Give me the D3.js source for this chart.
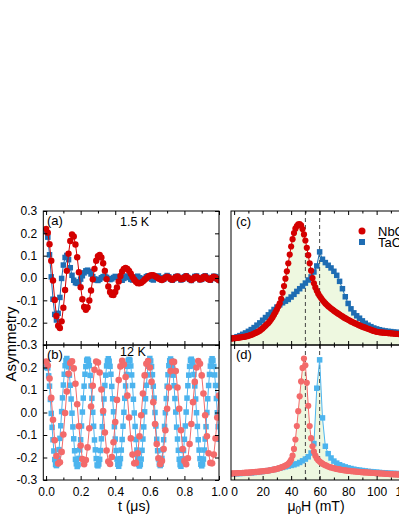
<!DOCTYPE html>
<html><head><meta charset="utf-8">
<script src="https://cdn.jsdelivr.net/npm/d3@7"></script>
<style>
body{margin:0;background:#fff;}
svg{display:block;font-family:"Liberation Sans",Arial,sans-serif;}
</style></head><body>
<svg id="chart" width="399" height="516"></svg>
<script>
// ---------- DATA ----------
// Panel (a) 1.5 K, t step 0.01 us
const aNbC = [
 0.220,0.203,0.151,0.077,-0.011,-0.098,-0.170,-0.214,-0.224,-0.194,
 -0.133,-0.054,0.032,0.109,0.166,0.195,0.186,0.150,0.093,0.026,
 -0.041,-0.095,-0.130,-0.142,-0.132,-0.101,-0.056,-0.006,0.041,0.077,
 0.098,0.103,0.092,0.066,0.032,-0.005,-0.038,-0.063,-0.075,-0.076,
 -0.063,-0.042,-0.016,0.009,0.029,0.041,0.045,0.041,0.032,0.019,
 0.005,-0.008,-0.017,-0.023,-0.024,-0.021,-0.015,-0.008,-0.001,0.006,
 0.010,0.013,0.013,0.008,0.004,-0.002,-0.006,-0.009,-0.004,0.002,
 0.006,0.003,-0.005,-0.008,-0.002,0.004,0.007,0.001,-0.006,-0.004,
 0.003,0.008,0.002,-0.005,-0.009,-0.003,0.004,0.006,0.000,-0.007,
 -0.004,0.005,0.007,-0.001,-0.006,-0.008,0.001,0.006,0.003,-0.004,
 -0.010];
const aTaC = [
 0.210,0.183,0.104,0.005,-0.095,-0.163,-0.188,-0.158,-0.087,-0.002,
 0.058,0.092,0.101,0.082,0.046,0.012,-0.010,-0.021,-0.024,-0.017,
 -0.005,0.010,0.023,0.032,0.035,0.029,0.018,0.006,-0.004,-0.009,
 -0.011,-0.006,0.001,0.006,0.008,0.003,-0.003,-0.007,-0.004,0.002,
 0.007,0.004,-0.003,-0.008,-0.010,-0.002,0.005,0.009,0.002,-0.006,
 -0.009,-0.003,0.004,0.008,0.001,-0.007,-0.011,-0.002,0.006,0.010,
 0.003,-0.005,-0.009,-0.001,0.007,0.009,0.001,-0.008,-0.006,0.004,
 0.011,0.005,-0.004,-0.010,-0.003,0.006,0.008,-0.001,-0.009,-0.005,
 0.005,0.010,0.002,-0.006,-0.011,-0.002,0.007,0.009,0.000,-0.008,
 -0.006,0.004,0.010,0.003,-0.005,-0.010,-0.001,0.008,0.006,-0.004,
 -0.009];
// Panel (b) 12 K
const bNbC = [ // t step 0.01 us
 0.226,0.209,0.151,0.065,-0.032,-0.123,-0.193,-0.227,-0.221,-0.175,
 -0.098,-0.002,0.093,0.172,0.220,0.228,0.196,0.128,0.037,-0.061,
 -0.147,-0.207,-0.230,-0.211,-0.155,-0.070,0.027,0.119,0.190,0.227,
 0.222,0.178,0.102,0.007,-0.089,-0.169,-0.218,-0.229,-0.198,-0.132,
 -0.042,0.056,0.144,0.205,0.230,0.213,0.158,0.075,-0.022,-0.115,
 -0.187,-0.226,-0.224,-0.181,-0.106,-0.012,0.084,0.165,0.217,0.229,
 0.200,0.136,0.046,-0.051,-0.140,-0.203,-0.230,-0.215,-0.162,-0.079,
 0.017,0.111,0.184,0.225,0.225,0.184,0.111,0.017,-0.079,-0.162,
 -0.215,-0.230,-0.203,-0.140,-0.051,0.046,0.136,0.200,0.229,0.217,
 0.165,0.084,-0.012,-0.106,-0.181,-0.224,-0.226,-0.187,-0.115,-0.022,
 0.075];
const bTaC = [ // t step 0.005 us
 0.200,0.214,0.198,0.163,0.117,0.058,-0.004,-0.066,-0.121,-0.171,-0.209,-0.231,-0.236,-0.228,-0.203,-0.165,-0.115,-0.059,0.004,0.065,0.122,0.170,0.208,0.231,
 0.240,0.229,0.203,0.166,0.121,0.060,-0.003,-0.064,-0.117,-0.170,-0.208,-0.228,-0.240,-0.232,-0.204,-0.166,-0.121,-0.060,0.002,0.064,0.117,0.170,0.204,0.232,
 0.237,0.231,0.208,0.165,0.118,0.063,0.001,-0.061,-0.122,-0.166,-0.205,-0.233,-0.237,-0.229,-0.208,-0.169,-0.117,-0.063,-0.002,0.060,0.120,0.166,0.207,0.229,
 0.239,0.228,0.205,0.170,0.116,0.061,0.003,-0.063,-0.118,-0.169,-0.207,-0.230,-0.239,-0.227,-0.205,-0.167,-0.120,-0.061,0.001,0.063,0.118,0.169,0.205,0.231,
 0.236,0.232,0.207,0.167,0.120,0.059,-0.002,-0.062,-0.120,-0.167,-0.204,-0.231,-0.238,-0.231,-0.207,-0.168,-0.118,-0.064,0.003,0.061,0.121,0.167,0.206,0.228,
 0.240,0.229,0.204,0.168,0.117,0.064,0.000,-0.060,-0.119,-0.170,-0.206,-0.229,-0.236,-0.230,-0.204,-0.166,-0.121,-0.062,-0.001,0.062,0.117,0.168,0.208,0.230,
 0.238,0.230,0.206,0.166,0.119,0.062,0.002,-0.065,-0.118,-0.168,-0.208,-0.232,-0.239,-0.228,-0.206,-0.169,-0.119,-0.060,0.002,0.064,0.119,0.166,0.205,0.232,
 0.237,0.228,0.207,0.169,0.118,0.060,-0.001,-0.062,-0.121,-0.167,-0.205,-0.230,-0.237,-0.229,-0.207,-0.167,-0.118,-0.063,0.000,0.061,0.120,0.169,0.206,0.229,
 0.239,0.231,0.205,0.167,0.120,0.062,-0.001,-0.063,-0.119];
// Panels (c),(d): field distributions, NbC from -2 mT step 1, TaC from -2 mT step 2
const cNbC = [
 .048,.050,.051,.052,.053,.055,.056,.058,.060,.061,
 .063,.066,.069,.072,.076,.080,.085,.090,.095,.100,
 .107,.115,.124,.134,.144,.154,.164,.177,.192,.208,
 .226,.245,.265,.288,.311,.345,.390,.440,.495,.550,
 .610,.675,.735,.790,.835,.868,.888,.900,.903,.892,
 .865,.825,.780,.725,.670,.610,.555,.500,.460,.430,
 .405,.383,.365,.350,.336,.322,.310,.300,.290,.281,
 .272,.264,.256,.248,.241,.234,.227,.220,.213,.206,
 .200,.194,.188,.182,.176,.171,.166,.161,.156,.151,
 .146,.141,.137,.133,.129,.125,.121,.117,.113,.109,
 .105,.102,.099,.097,.095,.094,.093,.092,.091,.090,
 .089,.088,.087,.086,.085,.084,.083,.082,.081,.080,
 .080,.079,.078];
const cTaC = [
 .050,.055,.062,.070,.080,.090,.102,.115,.130,.148,
 .165,.185,.205,.225,.245,.265,.283,.300,.315,.327,
 .340,.358,.378,.400,.420,.440,.462,.485,.508,.545,
 .590,.695,.640,.615,.595,.575,.550,.520,.475,.420,
 .360,.310,.270,.240,.218,.200,.180,.162,.148,.137,
 .127,.120,.114,.109,.105,.102,.100,.097,.095,.093,
 .091,.090];
const dNbC = [
 .048,.049,.050,.050,.051,.051,.052,.052,.053,.053,
 .054,.055,.055,.056,.057,.058,.059,.060,.061,.062,
 .063,.064,.065,.066,.067,.068,.070,.072,.074,.076,
 .078,.080,.083,.086,.089,.093,.097,.101,.106,.112,
 .120,.132,.150,.180,.230,.300,.400,.510,.620,.730,
 .830,.900,.850,.720,.550,.400,.310,.250,.210,.180,
 .160,.147,.137,.128,.121,.115,.110,.105,.100,.096,
 .093,.090,.087,.085,.082,.080,.078,.076,.074,.073,
 .071,.070,.068,.067,.066,.065,.064,.063,.062,.061,
 .060,.059,.058,.057,.056,.056,.055,.054,.053,.053,
 .052,.051,.050,.050,.049,.048,.048,.047,.046,.046,
 .045,.044,.044,.043,.042,.042,.041,.040,.040,.039,
 .039,.038,.038];
const dTaC = [
 .045,.046,.047,.048,.049,.050,.051,.053,.055,.057,
 .060,.063,.066,.070,.074,.078,.083,.088,.093,.098,
 .103,.108,.113,.120,.130,.142,.155,.172,.200,.270,
 .680,.890,.460,.250,.195,.163,.140,.125,.113,.104,
 .097,.090,.085,.080,.076,.073,.070,.067,.064,.062,
 .060,.058,.056,.054,.053,.051,.050,.049,.048,.047,
 .046,.045];
const tTicksMajor = [0,0.2,0.4,0.6,0.8,1.0];
const tTicksMinor = [0.1,0.3,0.5,0.7,0.9];
const aTicksY = [-0.3,-0.2,-0.1,0,0.1,0.2,0.3];
const bTicksY = [-0.3,-0.2,-0.1,0,0.1,0.2];
const hTicksMajor = [0,20,40,60,80,100,120];
const hTicksMinor = [10,30,50,70,90,110,130];
const dashedFields = [50,60];
const seriesNames = ["NbC","TaC"];

// ---------- SCALES ----------
const svg = d3.select("#chart");
const xT = d3.scaleLinear().domain([-0.016,1.0]).range([43.3,219]);
const yA = d3.scaleLinear().domain([-0.3,0.3]).range([345,211]);
const yB = d3.scaleLinear().domain([-0.3,0.3]).range([480,345]);
const xH = d3.scaleLinear().domain([-2.2,130]).range([231,231+132.2*1.425]);
const yC = d3.scaleLinear().domain([0,1]).range([345,211]);
const yD = d3.scaleLinear().domain([0,1]).range([480,345]);

const col = {aR:"#d40000", aB:"#1e6db3", bR:"#f36a6a", bB:"#4cb4ee", green:"#eef8e0"};

const defs = svg.append("defs");
function clip(id,x0,x1,y0,y1){
  defs.append("clipPath").attr("id",id).append("rect")
    .attr("x",x0).attr("y",y0).attr("width",x1-x0).attr("height",y1-y0);
  return "url(#"+id+")";
}
const clipA = clip("ca",xT.range()[0],xT.range()[1],211,345);
const clipB = clip("cb",xT.range()[0],xT.range()[1],345,480);
const clipC = clip("cc",xH.range()[0],xH.range()[1],211,345);
const clipD = clip("cd",xH.range()[0],xH.range()[1],345,480);

function series(clipUrl, xs, ys, xs_, ys_, color, shape, size){
  const g = svg.append("g").attr("clip-path",clipUrl);
  const pts = ys.map((v,i)=>[xs[i],v]);
  g.append("path").datum(pts)
    .attr("d", d3.line().x(d=>xs_(d[0])).y(d=>ys_(d[1])))
    .attr("fill","none").attr("stroke",color).attr("stroke-width",1);
  if(shape==="circle"){
    g.selectAll("circle").data(pts).join("circle")
      .attr("cx",d=>xs_(d[0])).attr("cy",d=>ys_(d[1])).attr("r",size).attr("fill",color);
  } else {
    g.selectAll("rect").data(pts).join("rect")
      .attr("x",d=>xs_(d[0])-size/2).attr("y",d=>ys_(d[1])-size/2)
      .attr("width",size).attr("height",size).attr("fill",color);
  }
}
const idxT = (arr, step) => arr.map((_,i)=>i*step);
const idxH = (arr, step) => arr.map((_,i)=>-2+i*step);

// fills (c),(d)
function fill(clipUrl, xs, ys, ysc){
  svg.append("path").attr("clip-path",clipUrl).datum(ys.map((v,i)=>[xs[i],v]))
    .attr("d", d3.area().x(d=>xH(d[0])).y0(ysc(0)).y1(d=>ysc(d[1])))
    .attr("fill",col.green);
}
fill(clipC, idxH(cTaC,2), cTaC, yC);
fill(clipC, idxH(cNbC,1), cNbC, yC);
fill(clipD, idxH(dTaC,2), dTaC, yD);
fill(clipD, idxH(dNbC,1), dNbC, yD);

// dashed lines
svg.append("g").selectAll("line").data(dashedFields).join("line")
  .attr("x1",d=>xH(d)).attr("x2",d=>xH(d)).attr("y1",211).attr("y2",480)
  .attr("stroke","#444").attr("stroke-width",1).attr("stroke-dasharray","4,3");

// series
series(clipA, idxT(aTaC,0.01), aTaC, xT, yA, col.aB, "rect", 5.5);
series(clipA, idxT(aNbC,0.01), aNbC, xT, yA, col.aR, "circle", 3.2);
series(clipB, idxT(bTaC,0.005), bTaC, xT, yB, col.bB, "rect", 5.5);
series(clipB, idxT(bNbC,0.01), bNbC, xT, yB, col.bR, "circle", 3.3);
series(clipC, idxH(cTaC,2), cTaC, xH, yC, col.aB, "rect", 5.5);
series(clipC, idxH(cNbC,1), cNbC, xH, yC, col.aR, "circle", 3.1);
series(clipD, idxH(dTaC,2), dTaC, xH, yD, col.bB, "rect", 5.5);
series(clipD, idxH(dNbC,1), dNbC, xH, yD, col.bR, "circle", 3.1);

// frames
function frame(x0,x1,y0,y1){
  svg.append("rect").attr("x",x0).attr("y",y0).attr("width",x1-x0).attr("height",y1-y0)
    .attr("fill","none").attr("stroke","#000").attr("stroke-width",1);
}
frame(xT.range()[0],xT.range()[1],211,345);
frame(xT.range()[0],xT.range()[1],345,480);
frame(xH.range()[0],xH.range()[1],211,345);
frame(xH.range()[0],xH.range()[1],345,480);

// axes
function ax(axis, tx, ty){
  const g = svg.append("g").attr("transform",`translate(${tx},${ty})`).call(axis);
  g.select(".domain").remove();
  g.selectAll("line").attr("stroke","#000");
  g.selectAll("text").attr("font-size",12).attr("fill","#000")
    .attr("font-family",'"Liberation Sans",Arial,sans-serif');
  g.attr("font-family",null).attr("font-size",null);
  return g;
}
const none = () => "";
const f1 = d => d.toFixed(1);
// left panel x
ax(d3.axisTop(xT).tickValues(tTicksMajor).tickSize(-4).tickFormat(none),0,211);
ax(d3.axisTop(xT).tickValues(tTicksMinor).tickSize(-2.5).tickFormat(none),0,211);
ax(d3.axisTop(xT).tickValues(tTicksMajor).tickSize(4).tickFormat(none),0,345);
ax(d3.axisBottom(xT).tickValues(tTicksMajor).tickSize(4).tickFormat(none),0,345);
ax(d3.axisTop(xT).tickValues(tTicksMinor).tickSize(2.5).tickFormat(none),0,345);
ax(d3.axisBottom(xT).tickValues(tTicksMinor).tickSize(2.5).tickFormat(none),0,345);
ax(d3.axisBottom(xT).tickValues(tTicksMajor).tickSize(-4).tickPadding(7).tickFormat(f1),0,480);
ax(d3.axisBottom(xT).tickValues(tTicksMinor).tickSize(-2.5).tickFormat(none),0,480);
// left panel y
ax(d3.axisLeft(yA).tickValues(aTicksY).tickSize(-4).tickPadding(6).tickFormat(f1),xT.range()[0],0);
ax(d3.axisLeft(yB).tickValues(bTicksY).tickSize(-4).tickPadding(6).tickFormat(f1),xT.range()[0],0);
ax(d3.axisRight(yA).tickValues(aTicksY).tickSize(-4).tickFormat(none),xT.range()[1],0);
ax(d3.axisRight(yB).tickValues(bTicksY).tickSize(-4).tickFormat(none),xT.range()[1],0);
// right panel x
ax(d3.axisTop(xH).tickValues(hTicksMajor).tickSize(-4).tickFormat(none),0,211);
ax(d3.axisTop(xH).tickValues(hTicksMinor).tickSize(-2.5).tickFormat(none),0,211);
ax(d3.axisTop(xH).tickValues(hTicksMajor).tickSize(4).tickFormat(none),0,345);
ax(d3.axisBottom(xH).tickValues(hTicksMajor).tickSize(4).tickFormat(none),0,345);
ax(d3.axisTop(xH).tickValues(hTicksMinor).tickSize(2.5).tickFormat(none),0,345);
ax(d3.axisBottom(xH).tickValues(hTicksMinor).tickSize(2.5).tickFormat(none),0,345);
ax(d3.axisBottom(xH).tickValues(hTicksMajor).tickSize(-4).tickPadding(7).tickFormat(d3.format("d")),0,480);
ax(d3.axisBottom(xH).tickValues(hTicksMinor).tickSize(-2.5).tickFormat(none),0,480);

// texts
function txt(x,y,s,size,anchor){
  return svg.append("text").attr("x",x).attr("y",y).attr("font-size",size)
    .attr("text-anchor",anchor||"start").attr("fill","#000").text(s);
}
txt(47,225,"(a)",13);
txt(120,226,"1.5 K",12.5);
txt(47,359,"(b)",13);
txt(120,356,"12 K",12.5);
txt(236,226,"(c)",13);
txt(236,359,"(d)",13);
svg.append("text").attr("transform","translate(16,344) rotate(-90)")
  .attr("text-anchor","middle").attr("font-size",15).text("Asymmetry");
txt(134,510.5,"t (\u03bcs)",14,"middle");
const lab = svg.append("text").attr("x",316).attr("y",510.5).attr("font-size",14).attr("text-anchor","middle");
lab.append("tspan").text("\u03bc");
lab.append("tspan").attr("font-size",10).attr("dy",3).text("0");
lab.append("tspan").attr("dy",-3).text("H (mT)");

// legend
svg.append("circle").attr("cx",362).attr("cy",231).attr("r",3.5).attr("fill",col.aR);
svg.append("rect").attr("x",359).attr("y",239).attr("width",6).attr("height",6).attr("fill",col.aB);
txt(378,235.5,seriesNames[0],13);
txt(378,246.5,seriesNames[1],13);
</script>
</body></html>
